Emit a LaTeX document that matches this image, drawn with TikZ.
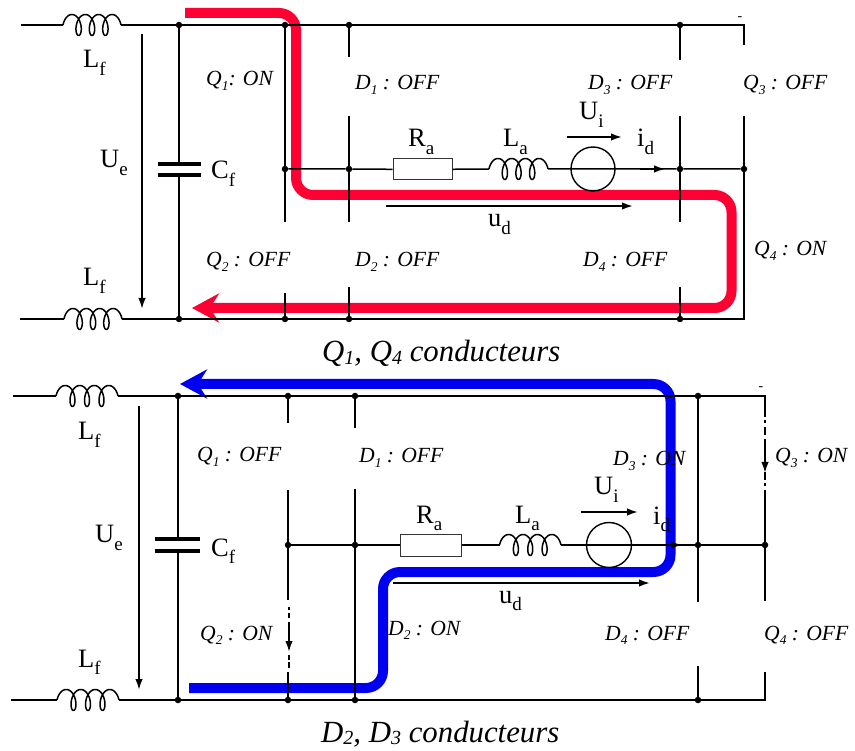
\documentclass[tikz,border=0pt]{standalone}
\usepackage{fontspec}
\setmainfont{Liberation Serif}
\usetikzlibrary{arrows.meta}
\definecolor{pathred}{HTML}{FF0033}
\definecolor{pathblue}{HTML}{0000F0}
\newcommand\Sb[1]{\raisebox{-7.5pt}{\fontsize{19}{19}\selectfont #1}}
\newcommand\Si[1]{\raisebox{-4.6pt}{\fontsize{13.5}{13.5}\selectfont #1}}
\newcommand\Sc[1]{\raisebox{-2.4pt}{\fontsize{20}{20}\selectfont #1}}
\newcommand\coilat[3]{% x0, y, width
  \draw[wire,line width=1.5pt,line join=round] plot[domain=0:1260,samples=170,variable=\t]
   ({#1+5.6+(\t/1260)*(#3-11.2)-5.6*cos(\t)},{#2-10.5*sin(\t)});}
\tikzset{
 wire/.style={line width=1.8pt,black},
 thin wire/.style={line width=1.5pt,black},
 junction/.style={circle,fill=black,inner sep=0pt,minimum size=6.5pt},
 lbl/.style={anchor=base west,inner sep=0pt,font=\fontsize{26.5}{28}\selectfont},
 state/.style={anchor=base west,inner sep=0pt,font=\fontsize{21.6}{23}\selectfont\itshape},
 caption/.style={anchor=base west,inner sep=0pt,font=\fontsize{30.8}{32}\selectfont\itshape},
 tick/.style={anchor=center,inner sep=0pt,font=\fontsize{14}{14}\selectfont},
 arr/.style={wire,-{Latex[length=11pt,width=7.5pt]}},
 resbox/.style={draw=black!80,line width=1pt,fill=white,inner sep=0pt},
 srcring/.style={draw=black,line width=1.4pt,circle,inner sep=0pt},
 capplate/.style={line width=4pt,black},
 flow/.style={line width=10pt,line join=round,-{Stealth[length=27pt,width=29pt,inset=9pt]}},
}
\begin{document}
\begin{tikzpicture}[x=1pt,y=-1pt]
\useasboundingbox (0,0) rectangle (855,751);
% ===== current paths underneath =====
\coordinate (rs) at (185,13);
\coordinate (re) at (192,308);
\draw[flow,pathred,rounded corners=17pt] (rs) -- (296,13) -- (296,195) -- (731.5,195) -- (731.5,308) -- (re);
\coordinate (bs) at (189,688);
\coordinate (be) at (180,384);
\draw[flow,pathblue,rounded corners=17pt] (bs) -- (383,688) -- (383,572) -- (670.5,572) -- (670.5,384) -- (be);
% ===== upper circuit =====
\coordinate (aw1) at (21,25); \coordinate (aL1a) at (63,25); \coordinate (aL1b) at (121,25);
\coordinate (aw2) at (20,319); \coordinate (aL2a) at (64,319); \coordinate (aL2b) at (122,319);
\node[junction] (aC) at (179,25) {}; \node[junction] (aCb) at (179,319) {};
\node[junction] (aQt) at (285,25) {}; \node[junction] (aQb) at (285,319) {};
\node[junction] (aDt) at (349,25) {}; \node[junction] (aDb) at (349,319) {};
\node[junction] (aEt) at (680,25) {}; \node[junction] (aEb) at (680,319) {};
\coordinate (aFt) at (744,25); \coordinate (aFb) at (744,319);
\node[junction] (aQm) at (285,169) {}; \node[junction] (aDm) at (349,169) {};
\node[junction] (aEm) at (680,169) {}; \node[junction] (aFm) at (744,169) {};
\node[resbox,minimum width=59pt,minimum height=21pt] (aR) at (422.5,169.5) {};
\coordinate (aLa) at (489,169); \coordinate (aLb) at (548,169);
\node[srcring,minimum size=44pt] (aS) at (593,169) {};
\coordinate (aCp1) at (179,164); \coordinate (aCp2) at (179,175);
\draw[wire] (aw1) -- (aL1a) (aL1b) -- (aC) -- (aQt) -- (aDt) -- (aEt) -- (aFt) -- (744,45);
\draw[wire] (aw2) -- (aL2a) (aL2b) -- (aCb) -- (aQb) -- (aDb) -- (aEb) -- (aFb) -- (aFm) -- (744,116);
\coilat{63}{25}{58}
\coilat{64}{319}{58}
\draw[wire] (aC) -- (aCp1) (aCp2) -- (aCb);
\draw[capplate] (158,164) -- (201,164) (158,175) -- (201,175);
\draw[arr] (142,34) -- (142,309);
\draw[wire] (aQt) -- (aQm) -- (285,222) (285,293) -- (aQb);
\draw[wire] (aDt) -- (349,57) (349,116) -- (aDm) -- (349,222) (349,287) -- (aDb);
\draw[wire] (aEt) -- (680,60) (680,116) -- (aEm) -- (680,222) (680,287) -- (aEb);
\draw[thin wire] (aQm) -- (aDm) -- (aR) (aR) -- (aLa) (aLb) -- (aEm) -- (aFm);
\coilat{489}{169}{59}
\draw[arr,thin wire] (640,169) -- (665,169);
\draw[arr] (567,137) -- (622,137);
\draw[arr] (386,206) -- (633,206);
\node[tick] (aMinus) at (740,19) {-};
\node[lbl] (aLf1) at (83,68) {L\Sb{f}};
\node[lbl] (aLf2) at (83,286) {L\Sb{f}};
\node[lbl] (aUe) at (100,168) {U\Sb{e}};
\node[lbl] (aCf) at (211,179) {C\Sb{f}};
\node[lbl] (aRa) at (408,147) {R\Sb{a}};
\node[lbl] (aLaT) at (503,147) {L\Sb{a}};
\node[lbl] (aUi) at (579,120) {U\Sb{i}};
\node[lbl] (aId) at (637,147) {i\Sb{d}};
\node[lbl] (aUd) at (488,227) {u\Sb{d}};
\node[state] (aQ1) at (206,86) {Q\Si{1}: ON};
\node[state] (aD1) at (355,90) {D\Si{1} : OFF};
\node[state] (aD3) at (588,90) {D\Si{3} : OFF};
\node[state] (aQ3) at (743,90) {Q\Si{3} : OFF};
\node[state] (aQ2) at (206,267) {Q\Si{2} : OFF};
\node[state] (aD2) at (355,267) {D\Si{2} : OFF};
\node[state] (aD4) at (583,267) {D\Si{4} : OFF};
\node[state] (aQ4) at (754,256) {Q\Si{4} : ON};
\node[caption] (aCap) at (322,362) {Q\Sc{1}, Q\Sc{4} conducteurs};
% ===== lower circuit =====
\coordinate (bw1) at (13,396); \coordinate (bL1a) at (56,396); \coordinate (bL1b) at (118,396);
\coordinate (bw2) at (11,700); \coordinate (bL2a) at (57,700); \coordinate (bL2b) at (119,700);
\node[junction] (bC) at (178,396) {}; \node[junction] (bCb) at (178,700) {};
\node[junction] (bQt) at (288,396) {}; \node[junction] (bQb) at (288,700) {};
\node[junction] (bDt) at (355,396) {}; \node[junction] (bDb) at (355,700) {};
\node[junction] (bEt) at (698,396) {}; \node[junction] (bEb) at (698,700) {};
\coordinate (bFt) at (765,396); \coordinate (bFb) at (765,700);
\node[junction] (bQm) at (288,545) {}; \node[junction] (bDm) at (355,545) {};
\node[junction] (bEm) at (698,545) {}; \node[junction] (bFm) at (765,545) {};
\node[resbox,minimum width=61pt,minimum height=22pt] (bR) at (430.5,545) {};
\coordinate (bLa) at (499.5,545); \coordinate (bLb) at (561,545);
\node[srcring,minimum size=45pt] (bS) at (609,545) {};
\coordinate (bCp1) at (178,539); \coordinate (bCp2) at (178,551);
\draw[wire] (bw1) -- (bL1a) (bL1b) -- (bC) -- (bQt) -- (bDt) -- (bEt) -- (bFt) -- (765,417);
\draw[wire] (bw2) -- (bL2a) (bL2b) -- (bCb) -- (bQb) -- (bDb) -- (bEb) -- (bFb) -- (765,672);
\coilat{56}{396}{62}
\coilat{57}{700}{62}
\draw[wire] (bC) -- (bCp1) (bCp2) -- (bCb);
\draw[capplate] (155,539) -- (200,539) (155,551) -- (200,551);
\draw[arr] (139,406) -- (139,690);
\draw[wire] (bQt) -- (288,423) (288,490) -- (bQm) -- (288,600);
\draw[wire] (bQb) -- (288,672);
\draw[wire,line width=1.3pt] (289,607) -- (289,610) (289,613) -- (289,618) (289,655) -- (289,660) (289,662) -- (289,668);
\draw[arr] (289,622) -- (289,652);
\draw[wire] (bDt) -- (355,428) (355,489) -- (bDm) -- (bDb);
\draw[wire] (bEt) -- (bEm) -- (698,602) (698,666) -- (bEb);
\draw[wire] (765,490) -- (bFm) -- (765,601);
\draw[wire,line width=1.3pt] (765,420) -- (765,423) (765,427) -- (765,435) (765,472) -- (765,480) (765,483) -- (765,486);
\draw[arr] (765,439) -- (765,473);
\draw[thin wire] (bQm) -- (bDm) -- (bR) (bR) -- (bLa) (bLb) -- (bEm) -- (bFm);
\coilat{499.5}{545}{61.5}
\draw[arr,thin wire] (660,545) -- (682,545);
\draw[arr] (581,512) -- (638,512);
\draw[arr] (393,583) -- (650,583);
\node[tick] (bMinus) at (761,389) {-};
\node[lbl] (bLf1) at (78,440) {L\Sb{f}};
\node[lbl] (bLf2) at (78,667) {L\Sb{f}};
\node[lbl] (bUe) at (95,543) {U\Sb{e}};
\node[lbl] (bCf) at (211,556) {C\Sb{f}};
\node[lbl] (bRa) at (416,523) {R\Sb{a}};
\node[lbl] (bLaT) at (515,523) {L\Sb{a}};
\node[lbl] (bUi) at (594,495) {U\Sb{i}};
\node[lbl] (bId) at (653,524) {i\Sb{d}};
\node[lbl] (bUd) at (499,603) {u\Sb{d}};
\node[state] (bQ1) at (197,462) {Q\Si{1} : OFF};
\node[state] (bD1) at (359,463) {D\Si{1} : OFF};
\node[state] (bD3) at (613,466) {D\Si{3} : ON};
\node[state] (bQ3) at (775,463) {Q\Si{3} : ON};
\node[state] (bQ2) at (200,640) {Q\Si{2} : ON};
\node[state] (bD2) at (388,635) {D\Si{2} : ON};
\node[state] (bD4) at (605,640) {D\Si{4} : OFF};
\node[state] (bQ4) at (764,640) {Q\Si{4} : OFF};
\node[caption] (bCap) at (321,742) {D\Sc{2}, D\Sc{3} conducteurs};
\end{tikzpicture}
\end{document}
